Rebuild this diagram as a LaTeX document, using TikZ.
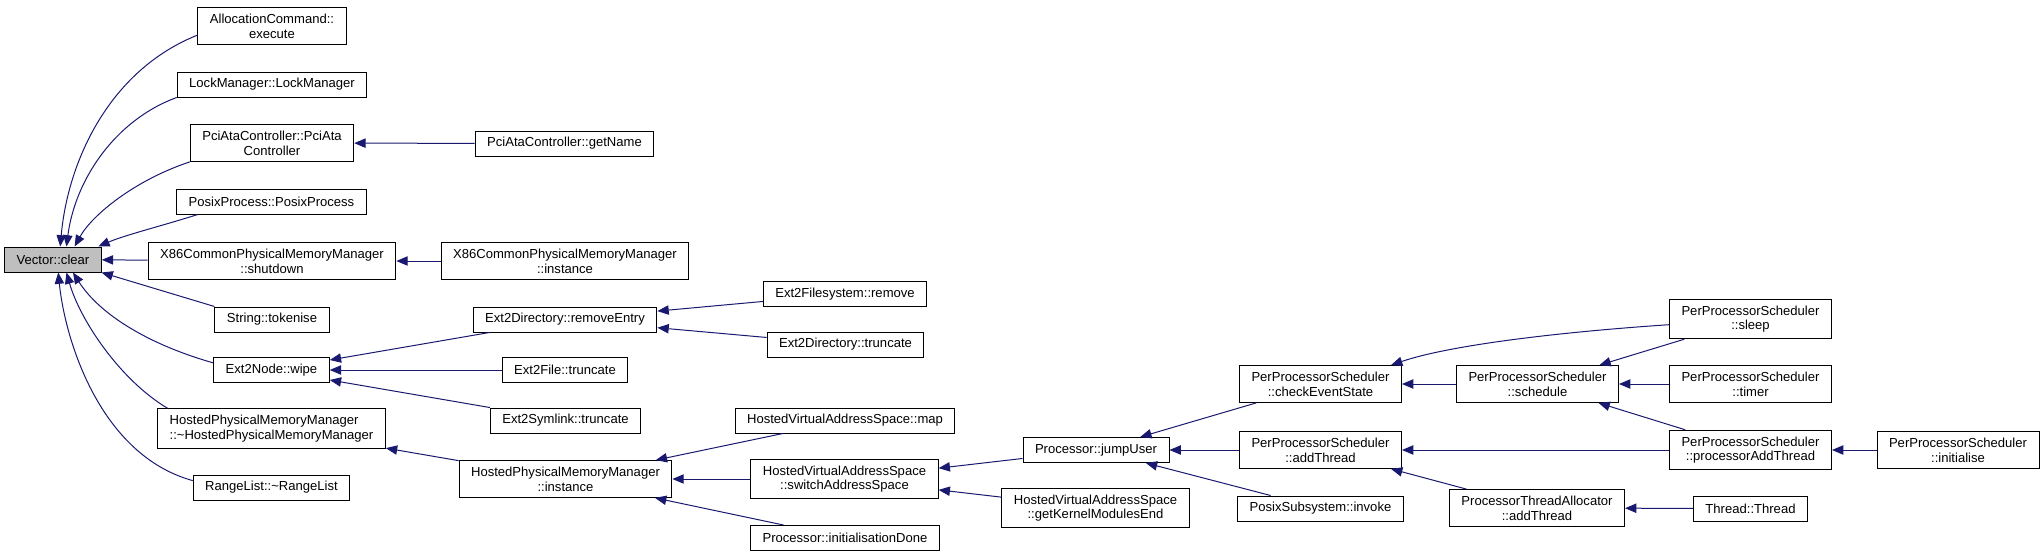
\documentclass[tikz,border=0pt]{standalone}
\usepackage{fontspec}
\setmainfont{Liberation Sans}
\usetikzlibrary{arrows.meta}

\definecolor{edgeblue}{HTML}{191970}
\tikzset{
  fn/.style={draw=black, line width=0.75pt, fill=white, align=center,
    inner xsep=9pt, inner ysep=4.7pt, minimum height=18.75pt,
    font=\fontsize{9.8}{11}\selectfont},
  fnhl/.style={fn, fill=black!25},
  call/.style={draw=edgeblue, line width=0.75pt,
    -{Triangle[length=8.5pt,width=7pt]}},
}

\begin{document}
\begin{tikzpicture}[x=0.75pt,y=-0.75pt]
  \useasboundingbox (0,0) rectangle (2043,557);
  % the function itself
  \node[fnhl] (clear) at (53,259.5) {Vector::clear};
  % direct callers
  \node[fn] (exec) at (272,26) {AllocationCommand::\\execute};
  \node[fn] (lockmgr) at (272,84.5) {LockManager::LockManager};
  \node[fn] (pciata) at (272,143) {PciAtaController::PciAta\\Controller};
  \node[fn] (posixproc) at (271.5,201.5) {PosixProcess::PosixProcess};
  \node[fn] (x86shut) at (272,261) {X86CommonPhysicalMemoryManager\\::shutdown};
  \node[fn] (tokenise) at (272,319.5) {String::tokenise};
  \node[fn] (wipe) at (271.5,370) {Ext2Node::wipe};
  \node[fn, align=left] (hpmmdtor) at (271.5,428.5) {HostedPhysicalMemoryManager\\::\textasciitilde HostedPhysicalMemoryManager};
  \node[fn] (rangelist) at (271.5,487.5) {RangeList::\textasciitilde RangeList};
  % second level
  \node[fn] (getname) at (564.5,143.5) {PciAtaController::getName};
  \node[fn] (x86inst) at (565,261) {X86CommonPhysicalMemoryManager\\::instance};
  \node[fn] (rmentry) at (565,319.5) {Ext2Directory::removeEntry};
  \node[fn] (filetrunc) at (565,370) {Ext2File::truncate};
  \node[fn] (symtrunc) at (565.5,420.5) {Ext2Symlink::truncate};
  \node[fn] (hpmminst) at (565.5,479) {HostedPhysicalMemoryManager\\::instance};
  % third level
  \node[fn] (fsremove) at (845,294) {Ext2Filesystem::remove};
  \node[fn] (dirtrunc) at (845.5,344.5) {Ext2Directory::truncate};
  \node[fn] (hvasmap) at (845,420.5) {HostedVirtualAddressSpace::map};
  \node[fn] (switchas) at (844.5,479) {HostedVirtualAddressSpace\\::switchAddressSpace};
  \node[fn] (initdone) at (845,538) {Processor::initialisationDone};
  % fourth level
  \node[fn] (jumpuser) at (1096,450) {Processor::jumpUser};
  \node[fn] (kmodend) at (1095.5,508) {HostedVirtualAddressSpace\\::getKernelModulesEnd};
  % scheduler side
  \node[fn] (chkevent) at (1320.5,384) {PerProcessorScheduler\\::checkEventState};
  \node[fn] (ppsadd) at (1320.5,450) {PerProcessorScheduler\\::addThread};
  \node[fn] (invoke) at (1320.5,508.5) {PosixSubsystem::invoke};
  \node[fn] (schedule) at (1537.5,384) {PerProcessorScheduler\\::schedule};
  \node[fn] (ptaadd) at (1537,508) {ProcessorThreadAllocator\\::addThread};
  \node[fn] (sleep) at (1750.5,319) {PerProcessorScheduler\\::sleep};
  \node[fn] (timer) at (1750.5,384) {PerProcessorScheduler\\::timer};
  \node[fn] (procadd) at (1750.5,450) {PerProcessorScheduler\\::processorAddThread};
  \node[fn] (thread) at (1750.5,508.5) {Thread::Thread};
  \node[fn] (init) at (1958,450) {PerProcessorScheduler\\::initialise};

  % calls into Vector::clear
  \draw[call] (exec.187) .. controls (110,70) and (68,160) .. (clear.61);
  \draw[call] (lockmgr.south west) .. controls (115,120) and (75,180) .. (clear.44);
  \draw[call] (pciata.south west) .. controls (135,180) and (92,215) .. (clear.31);
  \draw[call] (posixproc.190) .. controls (165,225) and (125,235) .. (clear.16);
  \draw[call] (x86shut) -- (clear);
  \draw[call] (tokenise.north west) -- (clear.-15);
  \draw[call] (wipe.173) .. controls (150,345) and (100,315) .. (clear.-33);
  \draw[call] (hpmmdtor.169) .. controls (120,380) and (80,320) .. (clear.-44);
  \draw[call] (rangelist.175) .. controls (100,455) and (65,340) .. (clear.-68);
  % second level calls
  \draw[call] (getname) -- (pciata);
  \draw[call] (x86inst) -- (x86shut);
  \draw[call] (rmentry) -- (wipe);
  \draw[call] (filetrunc) -- (wipe);
  \draw[call] (symtrunc) -- (wipe);
  \draw[call] (hpmminst) -- (hpmmdtor);
  % third level calls
  \draw[call] (fsremove) -- (rmentry);
  \draw[call] (dirtrunc) -- (rmentry);
  \draw[call] (hvasmap) -- (hpmminst);
  \draw[call] (switchas) -- (hpmminst);
  \draw[call] (initdone) -- (hpmminst);
  \draw[call] (jumpuser) -- (switchas);
  \draw[call] (kmodend) -- (switchas);
  % scheduler calls
  \draw[call] (chkevent) -- (jumpuser);
  \draw[call] (ppsadd) -- (jumpuser);
  \draw[call] (invoke) -- (jumpuser);
  \draw[call] (sleep.184) .. controls (1560,332) and (1450,345) .. (chkevent.15);
  \draw[call] (schedule) -- (chkevent);
  \draw[call] (sleep) -- (schedule);
  \draw[call] (timer) -- (schedule);
  \draw[call] (procadd) -- (schedule);
  \draw[call] (procadd) -- (ppsadd);
  \draw[call] (ptaadd) -- (ppsadd);
  \draw[call] (init) -- (procadd);
  \draw[call] (thread) -- (ptaadd);
\end{tikzpicture}
\end{document}
